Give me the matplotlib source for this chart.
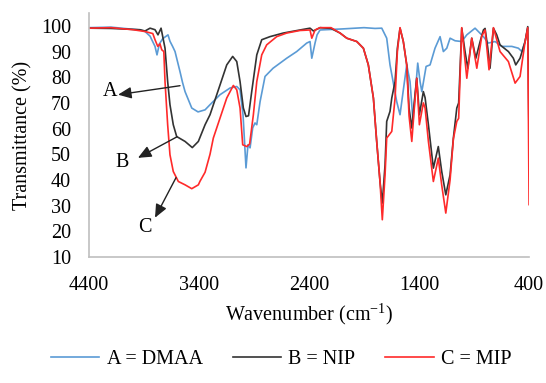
import matplotlib
matplotlib.use("Agg")
import matplotlib.pyplot as plt

plt.rcParams["font.family"] = ["Liberation Serif", "DejaVu Serif"]

# A = DMAA (blue)
wn_a = [4400, 4200, 3936, 3891, 3845, 3800, 3782, 3760, 3730, 3682, 3664, 3640,
        3618, 3595, 3573, 3550, 3527, 3466, 3409, 3345, 3300, 3209, 3118, 3057,
        3027, 3000, 2973, 2955, 2936, 2912, 2891, 2875, 2845, 2800, 2727, 2603,
        2512, 2421, 2391, 2375, 2345, 2327, 2300, 2100, 1900, 1800, 1739, 1694,
        1664, 1636, 1603, 1573, 1545, 1512, 1482, 1455, 1412, 1391, 1375, 1336,
        1300, 1255, 1209, 1179, 1148, 1118, 1073, 1012, 966, 891, 861, 815, 770,
        709, 648, 557, 497, 466, 436, 412]
t_a = [99.3, 99.5, 98.4, 97.8, 96.0, 92.0, 88.7, 93.0, 95.0, 96.5, 94.0, 92.0,
       90.0, 86.0, 82.2, 78.0, 74.4, 68.0, 66.5, 67.3, 69.3, 73.2, 75.8, 76.4,
       75.1, 65.4, 44.7, 53.7, 52.5, 60.3, 62.2, 61.5, 70.5, 80.3, 83.5, 87.4,
       90.0, 93.3, 93.9, 87.4, 93.4, 96.5, 98.4, 98.8, 99.3, 99.0, 99.1, 95.2,
       84.8, 78.3, 70.5, 65.4, 74.4, 84.8, 78.3, 62.8, 85.5, 78.3, 74.4, 84.2,
       84.8, 91.3, 95.8, 90.0, 91.3, 95.2, 94.2, 93.9, 96.5, 99.1, 97.8, 95.8, 93.3,
       93.9, 92.0, 92.0, 91.3, 90.0, 93.9, 99.1]

# B = NIP (black)
wn_b = [4400, 4200, 3936, 3891, 3845, 3800, 3773, 3745, 3709, 3685, 3664, 3634,
        3603, 3527, 3461, 3406, 3345, 3300, 3209, 3148, 3094, 3057, 3027, 2997,
        2973, 2950, 2921, 2875, 2830, 2755, 2634, 2482, 2391, 2360, 2300, 2200,
        2118, 2057, 1966, 1906, 1861, 1815, 1785, 1755, 1734, 1709, 1694, 1664,
        1648, 1618, 1597, 1573, 1543, 1512, 1491, 1466, 1443, 1421, 1397, 1361,
        1345, 1315, 1270, 1225, 1194, 1157, 1118, 1088, 1057, 1040, 1012, 982,
        957, 921, 884, 845, 815, 800, 775, 755, 724, 694, 664, 588, 543, 521,
        482, 436, 412, 400]
t_b = [99.1, 99.0, 98.5, 98.0, 99.1, 98.5, 96.5, 99.1, 91.3, 78.3, 69.3, 61.5,
       56.9, 55.0, 52.6, 55.0, 61.5, 65.4, 77.0, 84.8, 88.1, 86.1, 78.3, 68.0,
       64.7, 65.0, 74.4, 88.7, 94.6, 95.8, 97.2, 98.4, 99.1, 98.0, 99.3, 99.0,
       97.2, 95.2, 93.9, 91.3, 84.8, 71.9, 55.0, 39.4, 31.0, 45.9, 62.8, 66.7,
       71.9, 78.3, 91.3, 99.1, 93.9, 84.8, 68.0, 60.2, 70.5, 79.6, 65.4, 74.4,
       72.0, 61.5, 44.6, 53.0, 43.3, 34.2, 42.0, 56.3, 68.0, 70.0, 99.1, 90.0,
       83.5, 95.2, 87.4, 93.9, 98.4, 99.0, 91.3, 83.5, 99.1, 96.5, 92.6, 90.0, 87.4, 84.8,
       87.4, 93.9, 99.7, 55.0]

# C = MIP (red)
wn_c = [4400, 4200, 4000, 3891, 3820, 3800, 3775, 3755, 3739, 3720, 3709, 3685,
        3664, 3634, 3588, 3527, 3466, 3406, 3391, 3345, 3300, 3270, 3209, 3148,
        3088, 3057, 3027, 3003, 2966, 2940, 2906, 2875, 2830, 2785, 2694, 2603,
        2482, 2391, 2375, 2345, 2300, 2200, 2118, 2057, 1966, 1906, 1861, 1815,
        1785, 1755, 1734, 1709, 1694, 1648, 1618, 1597, 1573, 1543, 1512, 1491,
        1466, 1443, 1421, 1397, 1361, 1345, 1315, 1270, 1225, 1194, 1157, 1118,
        1088, 1057, 1040, 1012, 966, 921, 875, 830, 800, 764, 724, 664, 588, 527,
        482, 436, 412, 400]
t_c = [99.1, 99.3, 98.5, 97.8, 97.0, 94.6, 92.0, 93.0, 90.7, 90.0, 78.3, 61.5,
       49.8, 43.3, 39.4, 38.1, 36.6, 38.1, 39.5, 43.0, 50.0, 56.3, 64.1, 71.9,
       76.8, 75.1, 68.0, 53.7, 53.0, 54.0, 65.4, 78.3, 88.7, 92.6, 95.8, 97.2,
       98.2, 98.4, 95.2, 98.4, 99.3, 99.3, 97.2, 95.2, 93.9, 91.3, 84.8, 71.9,
       55.0, 39.4, 24.5, 42.0, 56.3, 58.9, 71.9, 90.0, 99.3, 93.9, 84.8, 65.0,
       55.0, 68.0, 79.6, 61.5, 70.0, 68.0, 55.0, 39.4, 48.5, 38.0, 27.1, 40.0,
       56.0, 62.8, 64.0, 99.3, 79.6, 95.2, 83.5, 96.0, 98.4, 82.9, 99.3, 90.0, 86.1, 77.7,
       80.3, 93.9, 99.3, 30.4]

y_ticks = [10, 20, 30, 40, 50, 60, 70, 80, 90, 100]
x_ticks = [4400, 3400, 2400, 1400, 400]

COL_A = "#5b9bd5"
COL_B = "#333333"
COL_C = "#ff2a2a"
FS = 14.5

fig = plt.figure(figsize=(5.46, 3.83), dpi=100)
ax = fig.add_axes([0.163, 0.329, 0.806, 0.637])

ax.plot(wn_a, t_a, color=COL_A, lw=1.2, label="A = DMAA")
ax.plot(wn_b, t_b, color=COL_B, lw=1.2, label="B = NIP")
ax.plot(wn_c, t_c, color=COL_C, lw=1.2, label="C = MIP")

ax.set_xlim(4400, 400)
ax.set_ylim(10, 105)
ax.set_xticks(x_ticks)
ax.set_yticks(y_ticks)
ax.tick_params(length=0, labelsize=FS)
ax.tick_params(axis="x", pad=14)
ax.tick_params(axis="y", pad=13)
for s in ("top", "right"):
    ax.spines[s].set_visible(False)
for s in ("left", "bottom"):
    ax.spines[s].set_color("#bfbfbf")
    ax.spines[s].set_linewidth(1.2)

ax.set_xlabel("Wavenumber (cm$^{\\mathregular{-1}}$)", fontsize=FS, labelpad=4)
ax.set_ylabel("Transmittance (%)", fontsize=FS, labelpad=6)

# arrows with letters
arrow = dict(arrowstyle="-|>,head_length=0.8,head_width=0.35", color="#222222", lw=1.0,
             shrinkA=0, shrinkB=0)
ax.annotate("", xy=(4136, 73.2), xytext=(3573, 76.7), arrowprops=arrow)
ax.annotate("", xy=(3955, 48.6), xytext=(3600, 56.8), arrowprops=arrow)
ax.annotate("", xy=(3800, 25.3), xytext=(3609, 40.9), arrowprops=arrow)
ax.text(4209, 74.3, "A", fontsize=FS, ha="center", va="center")
ax.text(4100, 46.7, "B", fontsize=FS, ha="center", va="center")
ax.text(3891, 21.4, "C", fontsize=FS, ha="center", va="center")

fig.legend(loc="lower center", bbox_to_anchor=(0.515, -0.01), ncol=3, frameon=False,
           fontsize=FS, handlelength=2.4, columnspacing=1.5, handletextpad=0.35)

fig.savefig("out.png", dpi=100)
